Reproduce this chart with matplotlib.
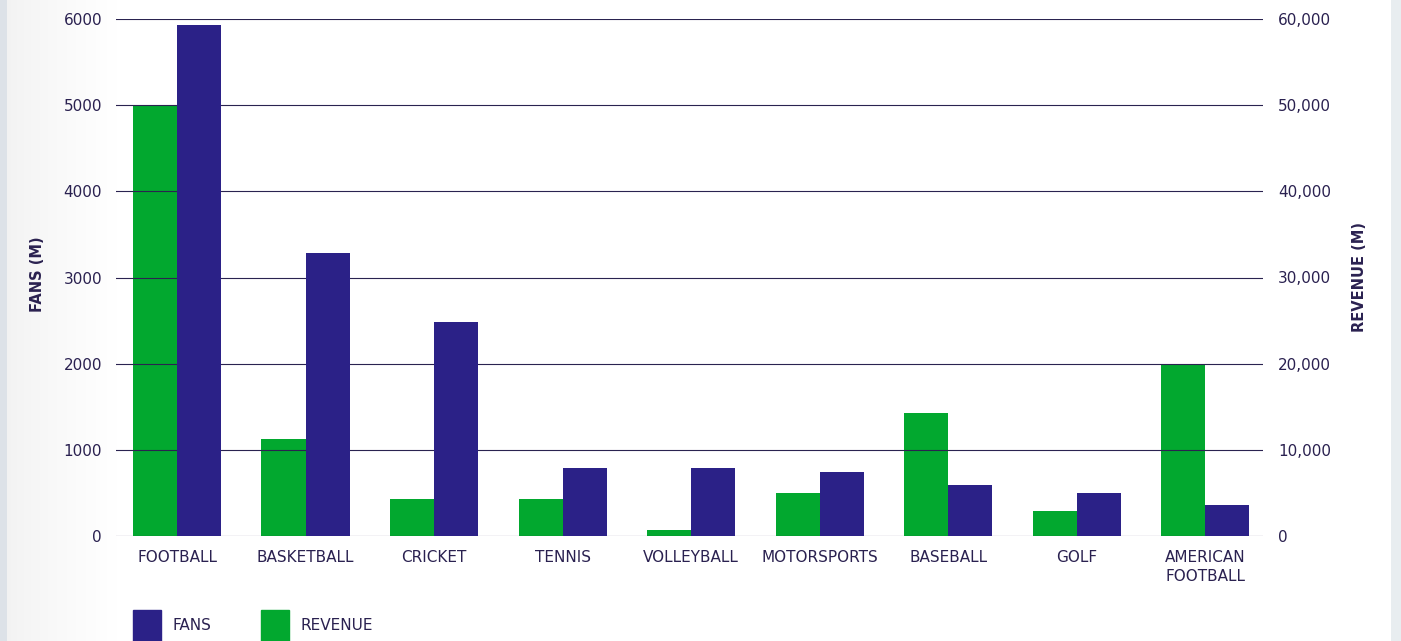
import numpy as np
import matplotlib.pyplot as plt
from matplotlib.patches import Rectangle
from matplotlib.ticker import FuncFormatter

sports = ['FOOTBALL', 'BASKETBALL', 'CRICKET', 'TENNIS', 'VOLLEYBALL',
          'MOTORSPORTS', 'BASEBALL', 'GOLF', 'AMERICAN\nFOOTBALL']
fans = [5930, 3280, 2480, 790, 790, 745, 595, 500, 360]
revenue = [50000, 11250, 4300, 4300, 700, 5000, 14250, 2900, 20000]

NAVY = '#2b2187'
GREEN = '#02a82f'
TXT = '#2a2150'

plt.rcParams['font.family'] = ['DejaVu Sans']

fig = plt.figure(figsize=(14.01, 6.41), dpi=100)

# background: grey strips at the edges and a soft gradient on the left
bg = fig.add_axes([0, 0, 1, 1], zorder=-10)
W = 1401
col = np.ones((1, W, 3))
xs = np.arange(W)
g = np.clip((xs - 7) / 110.0, 0, 1) ** 0.8
shade = 0.95 + 0.05 * g
for c in range(3):
    col[0, :, c] = shade
col[0, :7] = [0.87, 0.89, 0.91]
col[0, 1391:] = [0.91, 0.93, 0.945]
bg.imshow(col, aspect='auto', extent=[0, 1, 0, 1])
bg.axis('off')

ax = fig.add_axes([116 / 1401, 1 - 536 / 641, (1263 - 116) / 1401, (536 - 19) / 641])
ax2 = ax.twinx()

x = np.arange(len(sports))
w = 0.343
ax2.bar(x - w / 2, revenue, w, color=GREEN, zorder=3)
ax.bar(x + w / 2, fans, w, color=NAVY, zorder=3)
ax.set_zorder(2)
ax2.set_zorder(1)
ax.patch.set_visible(False)
ax2.patch.set_visible(False)

ax.set_xlim(-0.475, 8.45)
ax.set_ylim(0, 6000)
ax2.set_ylim(0, 60000)
ax.set_yticks(range(0, 6001, 1000))
ax2.set_yticks(range(0, 60001, 10000))
ax2.yaxis.set_major_formatter(FuncFormatter(lambda v, p: f'{int(v):,}'))

for a in (ax, ax2):
    for s in a.spines.values():
        s.set_visible(False)
    a.tick_params(length=0, labelsize=11, colors=TXT)
ax.tick_params(axis='y', pad=10)
ax2.tick_params(axis='y', pad=11)
ax.tick_params(axis='x', pad=10)

ax.set_xticks(x)
ax.set_xticklabels(sports, fontsize=11, color=TXT, linespacing=1.35)
ax.grid(axis='y', color='#2a2350', linewidth=0.8, zorder=0)
ax.set_axisbelow(True)
ax2.grid(False)

fig.text(37 / 1401, 1 - 274 / 641, 'FANS (M)', rotation=90, ha='center', va='center',
         fontsize=10.5, fontweight='bold', color=TXT)
fig.text(1360 / 1401, 1 - 277 / 641, 'REVENUE (M)', rotation=90, ha='center', va='center',
         fontsize=10.5, fontweight='bold', color=TXT)

# legend
fig.add_artist(Rectangle((133 / 1401, -0.02), 28 / 1401, (641 - 610) / 641 + 0.02,
                         transform=fig.transFigure, color=NAVY))
fig.text(172 / 1401, 1 - 626 / 641, 'FANS', va='center', fontsize=11, color=TXT)
fig.add_artist(Rectangle((261 / 1401, -0.02), 28 / 1401, (641 - 610) / 641 + 0.02,
                         transform=fig.transFigure, color=GREEN))
fig.text(300 / 1401, 1 - 626 / 641, 'REVENUE', va='center', fontsize=11, color=TXT)

fig.savefig('out.png', dpi=100)
